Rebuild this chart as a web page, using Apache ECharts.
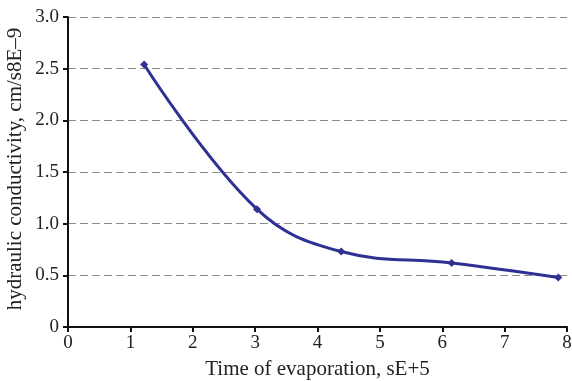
<!DOCTYPE html>
<html>
<head>
<meta charset="utf-8">
<script src="https://cdn.jsdelivr.net/npm/echarts@6/dist/echarts.min.js"></script>
<style>
  html, body { margin: 0; padding: 0; background: #fff; }
  #main { width: 572px; height: 381px; }
</style>
</head>
<body>
<div id="main"></div>
<script>
// 数据
var timeVals = [1.22, 3.03, 4.38, 6.15, 7.86];
var condVals = [2.54, 1.14, 0.73, 0.62, 0.48];

var points = [];
for (let i = 0; i < timeVals.length; i++) {
    points.push([timeVals[i], condVals[i]]);
}

var font = 'Liberation Serif';
var myChart = echarts.init(document.getElementById('main'));
var option = {
    animation: false,
    grid: { left: 68, right: 5, top: 17, bottom: 54, containLabel: false, outerBoundsMode: 'none' },
    xAxis: {
        type: 'value',
        min: 0, max: 8, interval: 1,
        name: 'Time of evaporation, sE+5',
        nameLocation: 'middle',
        nameGap: 32,
        nameMoveOverlap: false,
        nameTextStyle: { fontFamily: font, fontSize: 21, color: '#222' },
        axisLine: { lineStyle: { color: '#111', width: 2 } },
        axisTick: { show: true, length: 5, lineStyle: { color: '#111', width: 2 } },
        axisLabel: { fontFamily: font, fontSize: 19, color: '#222', margin: 7 },
        splitLine: { show: false }
    },
    yAxis: {
        type: 'value',
        min: 0, max: 3, interval: 0.5,
        name: 'hydraulic conductivity, cm/s8E–9',
        nameLocation: 'middle',
        nameGap: 42,
        nameMoveOverlap: false,
        nameTextStyle: { fontFamily: font, fontSize: 21, color: '#222', padding: [0, 0, 0, 6] },
        axisLine: { show: true, lineStyle: { color: '#111', width: 2 } },
        axisTick: { show: true, length: 5, lineStyle: { color: '#111', width: 2 } },
        axisLabel: {
            fontFamily: font, fontSize: 19, color: '#222', margin: 9,
            formatter: function (v) { return v === 0 ? '0' : v.toFixed(1); }
        },
        splitLine: { show: true, lineStyle: { color: '#8a8a8a', type: [8, 4], width: 1 } }
    },
    series: [{
        type: 'line',
        data: points,
        smooth: 0.4,
        symbol: 'diamond',
        symbolSize: 8,
        lineStyle: { color: '#2e3192', width: 3 },
        itemStyle: { color: '#2e3192' }
    }]
};
myChart.setOption(option);
</script>
</body>
</html>
